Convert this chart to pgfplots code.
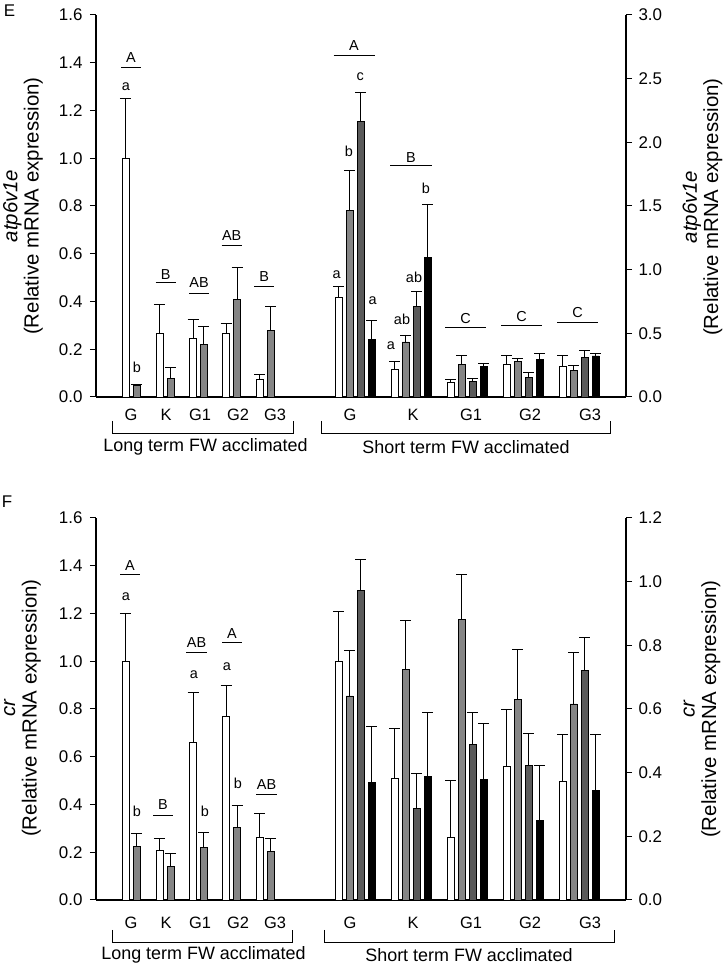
\documentclass[border=0pt]{standalone}
\usepackage{pgfplots}
\pgfplotsset{compat=1.18}
\usepackage{fontspec}
\setmainfont{Liberation Sans}
\definecolor{mgray}{HTML}{858585}
\definecolor{dgray}{HTML}{5A5A5A}
\newcommand{\tfont}{\fontsize{17}{17}\selectfont}
\newcommand{\gfont}{\fontsize{16.5}{16.5}\selectfont}
\newcommand{\lfont}{\fontsize{14.5}{14.5}\selectfont}
\newcommand{\bfont}{\fontsize{18}{18}\selectfont}
\newcommand{\yfont}{\fontsize{20.5}{21.5}\selectfont}
\tikzset{sig/.style={line width=0.9bp}}
\pgfplotsset{
  base/.style={scale only axis, width=530bp, height=382bp, xmin=96, xmax=626, ymin=0,
    clip=false, xtick=\empty, tick align=outside, major tick length=6bp,
    axis line style={line width=1.1bp}, major tick style={line width=1bp, black},
    yticklabel style={font=\tfont, /pgf/number format/fixed, /pgf/number format/fixed zerofill, /pgf/number format/precision=1},
    /pgf/number format/assume math mode=true},
  leftax/.style={axis y line*=left, axis x line*=bottom, ymax=1.6, ytick={0,0.2,...,1.6},
    yticklabel style={xshift=-4bp}},
  rightax/.style={axis y line*=right, axis x line=none, yticklabel style={xshift=3bp}},
  bars/.style={ybar, bar width=7, bar shift=0pt, draw=black, line width=0.7bp,
    error bars/y dir=plus, error bars/y explicit,
    error bars/error bar style={line width=0.95bp, black, solid},
    error bars/error mark options={rotate=90, mark size=5.5bp, line width=0.95bp, black}},
}
\begin{document}
\begin{tikzpicture}
\path[use as bounding box] (0,0) rectangle (725bp,965bp);
% ================= Panel E =================
\begin{axis}[base, leftax, at={(96bp,568bp)}, anchor=south west]
\addplot[bars, fill=white] coordinates {
 (125.5,1.0) +- (0,0.25) (159.5,0.266) +- (0,0.121) (193,0.245) +- (0,0.081)
 (226,0.266) +- (0,0.043) (259.5,0.073) +- (0,0.023)};
\addplot[bars, fill=mgray] coordinates {
 (136.5,0.048) +- (0,0.006) (170.5,0.077) +- (0,0.046) (203.5,0.22) +- (0,0.075)
 (237,0.409) +- (0,0.132) (270.5,0.278) +- (0,0.102)};
\draw[sig] (axis cs:121,1.379) -- (axis cs:141,1.379);
\node[font=\lfont] at (axis cs:131,1.42) {A};
\node[font=\lfont] at (axis cs:126,1.30) {a};
\node[font=\lfont] at (axis cs:137,0.126) {b};
\draw[sig] (axis cs:155.7,0.478) -- (axis cs:175.7,0.478);
\node[font=\lfont] at (axis cs:165.7,0.512) {B};
\draw[sig] (axis cs:189,0.433) -- (axis cs:209,0.433);
\node[font=\lfont] at (axis cs:199,0.478) {AB};
\draw[sig] (axis cs:221.7,0.633) -- (axis cs:241.7,0.633);
\node[font=\lfont] at (axis cs:231.7,0.678) {AB};
\draw[sig] (axis cs:254.3,0.461) -- (axis cs:274.3,0.461);
\node[font=\lfont] at (axis cs:264.3,0.506) {B};
\end{axis}
\begin{axis}[base, rightax, at={(96bp,568bp)}, anchor=south west,
  ymax=3.0, ytick={0,0.5,...,3.0}]
\addplot[bars, fill=white] coordinates {
 (338.5,0.785) +- (0,0.081) (394.5,0.217) +- (0,0.06) (450.5,0.113) +- (0,0.021)
 (506.5,0.254) +- (0,0.073) (562.5,0.244) +- (0,0.083)};
\addplot[bars, fill=mgray] coordinates {
 (349.5,1.466) +- (0,0.311) (405.5,0.432) +- (0,0.055) (461.5,0.257) +- (0,0.07)
 (517.5,0.28) +- (0,0.021) (573.5,0.21) +- (0,0.036)};
\addplot[bars, fill=dgray] coordinates {
 (360.5,2.162) +- (0,0.233) (416.5,0.712) +- (0,0.115) (472.5,0.12) +- (0,0.024)
 (528.5,0.157) +- (0,0.039) (584.5,0.309) +- (0,0.058)};
\addplot[bars, fill=black] coordinates {
 (371.5,0.453) +- (0,0.149) (427.5,1.099) +- (0,0.409) (483.5,0.241) +- (0,0.023)
 (539.5,0.296) +- (0,0.045) (595.5,0.322) +- (0,0.019)};
\draw[sig] (axis cs:333.5,2.686) -- (axis cs:375,2.686);
\node[font=\lfont] at (axis cs:354,2.757) {A};
\node[font=\lfont] at (axis cs:336.7,0.963) {a};
\node[font=\lfont] at (axis cs:349,1.932) {b};
\node[font=\lfont] at (axis cs:360.3,2.513) {c};
\node[font=\lfont] at (axis cs:372.7,0.754) {a};
\draw[sig] (axis cs:390,1.82) -- (axis cs:432,1.82);
\node[font=\lfont] at (axis cs:411,1.88) {B};
\node[font=\lfont] at (axis cs:391,0.40) {a};
\node[font=\lfont] at (axis cs:402,0.61) {ab};
\node[font=\lfont] at (axis cs:414,0.942) {ab};
\node[font=\lfont] at (axis cs:426,1.636) {b};
\draw[sig] (axis cs:445,0.55) -- (axis cs:486,0.55);
\node[font=\lfont] at (axis cs:465.5,0.62) {C};
\draw[sig] (axis cs:501,0.563) -- (axis cs:542,0.563);
\node[font=\lfont] at (axis cs:521.5,0.634) {C};
\draw[sig] (axis cs:557,0.587) -- (axis cs:598,0.587);
\node[font=\lfont] at (axis cs:577.5,0.663) {C};
\end{axis}
% labels panel E
\node[font=\fontsize{17}{17}\selectfont] at (9.5bp,954bp) {E};
\node[rotate=90, align=center, font=\yfont] at (23bp,759bp) {\textit{atp6v1e}\\(Relative mRNA expression)};
\node[rotate=90, align=center, font=\yfont] at (702.5bp,758bp) {\textit{atp6v1e}\\(Relative mRNA expression)};
\foreach \x/\t in {131/G,166/K,200/G1,238/G2,275/G3,350/G,413/K,471/G1,530/G2,590/G3}
  \node[font=\gfont, anchor=base] at (\x bp,544bp) {\t};
\draw[line width=0.8bp] (112bp,544bp) -- (112bp,532bp) -- (293bp,532bp) -- (293bp,544bp);
\draw[line width=0.8bp] (321bp,544bp) -- (321bp,532bp) -- (610bp,532bp) -- (610bp,544bp);
\node[font=\bfont] at (205.5bp,518bp) {Long term FW acclimated};
\node[font=\bfont] at (466bp,518bp) {Short term FW acclimated};
% ================= Panel F =================
\begin{axis}[base, leftax, at={(96bp,65bp)}, anchor=south west]
\addplot[bars, fill=white] coordinates {
 (125.5,1.0) +- (0,0.2) (159.5,0.21) +- (0,0.049) (193,0.66) +- (0,0.209)
 (226,0.769) +- (0,0.128) (259.5,0.263) +- (0,0.1)};
\addplot[bars, fill=mgray] coordinates {
 (136.5,0.226) +- (0,0.053) (170.5,0.14) +- (0,0.053) (203.5,0.221) +- (0,0.061)
 (237,0.303) +- (0,0.091) (270.5,0.203) +- (0,0.053)};
\draw[sig] (axis cs:120,1.362) -- (axis cs:140,1.362);
\node[font=\lfont] at (axis cs:130,1.40) {A};
\node[font=\lfont] at (axis cs:126,1.27) {a};
\node[font=\lfont] at (axis cs:137,0.37) {b};
\draw[sig] (axis cs:153,0.356) -- (axis cs:173,0.356);
\node[font=\lfont] at (axis cs:163,0.40) {B};
\draw[sig] (axis cs:186,1.037) -- (axis cs:207,1.037);
\node[font=\lfont] at (axis cs:196.5,1.08) {AB};
\node[font=\lfont] at (axis cs:194,0.943) {a};
\node[font=\lfont] at (axis cs:205,0.37) {b};
\draw[sig] (axis cs:222,1.079) -- (axis cs:242,1.079);
\node[font=\lfont] at (axis cs:232,1.118) {A};
\node[font=\lfont] at (axis cs:227,0.978) {a};
\node[font=\lfont] at (axis cs:238,0.489) {b};
\draw[sig] (axis cs:256,0.44) -- (axis cs:277,0.44);
\node[font=\lfont] at (axis cs:266.5,0.482) {AB};
\end{axis}
\begin{axis}[base, rightax, at={(96bp,65bp)}, anchor=south west,
  ymax=1.2, ytick={0,0.2,...,1.2}]
\addplot[bars, fill=white] coordinates {
 (338.5,0.749) +- (0,0.157) (394.5,0.381) +- (0,0.157) (450.5,0.197) +- (0,0.177)
 (506.5,0.421) +- (0,0.176) (562.5,0.374) +- (0,0.145)};
\addplot[bars, fill=mgray] coordinates {
 (349.5,0.641) +- (0,0.143) (405.5,0.723) +- (0,0.156) (461.5,0.882) +- (0,0.142)
 (517.5,0.631) +- (0,0.157) (573.5,0.616) +- (0,0.16)};
\addplot[bars, fill=dgray] coordinates {
 (360.5,0.972) +- (0,0.097) (416.5,0.287) +- (0,0.109) (472.5,0.49) +- (0,0.1)
 (528.5,0.424) +- (0,0.1) (584.5,0.72) +- (0,0.105)};
\addplot[bars, fill=black] coordinates {
 (371.5,0.369) +- (0,0.176) (427.5,0.388) +- (0,0.202) (483.5,0.379) +- (0,0.175)
 (539.5,0.249) +- (0,0.175) (595.5,0.344) +- (0,0.177)};
\end{axis}
% labels panel F
\node[font=\fontsize{17}{17}\selectfont] at (7bp,463bp) {F};
\node[rotate=90, align=center, font=\yfont] at (22.5bp,257bp) {\textit{cr}\\(Relative mRNA expression)};
\node[rotate=90, align=center, font=\yfont] at (702bp,256bp) {\textit{cr}\\(Relative mRNA expression)};
\foreach \x/\t in {131/G,166/K,200/G1,238/G2,275/G3,350/G,413/K,471/G1,530/G2,590/G3}
  \node[font=\gfont, anchor=base] at (\x bp,37bp) {\t};
\draw[line width=0.8bp] (112bp,35bp) -- (112bp,23bp) -- (292bp,23bp) -- (292bp,35bp);
\draw[line width=0.8bp] (324bp,35bp) -- (324bp,23bp) -- (614bp,23bp) -- (614bp,35bp);
\node[font=\bfont] at (203.5bp,10bp) {Long term FW acclimated};
\node[font=\bfont] at (469bp,10bp) {Short term FW acclimated};
\end{tikzpicture}
\end{document}
